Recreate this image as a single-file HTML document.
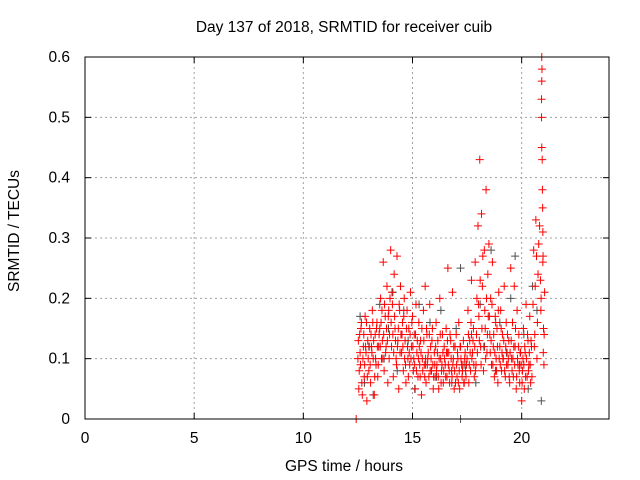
<!DOCTYPE html>
<html><head><meta charset="utf-8">
<style>
body{margin:0;background:#fff;}
svg{display:block;font-family:"Liberation Sans",sans-serif;}
</style></head>
<body>
<svg id="chart" width="640" height="480">
<rect x="0" y="0" width="640" height="480" fill="#fff"/>
<text x="344" y="32" font-size="15.5" text-anchor="middle">Day 137 of 2018, SRMTID for receiver cuib</text>
<text x="344" y="471" font-size="15.5" text-anchor="middle">GPS time / hours</text>
<text transform="translate(19,231) rotate(-90)" font-size="15.5" text-anchor="middle">SRMTID / TECUs</text>
<g id="grid"></g>
<g id="ticks"></g>
<g id="grey"></g>
<g id="red"></g>
<rect x="85" y="57" width="524" height="362" fill="none" stroke="#000" stroke-width="1"/>
</svg>
<script>
const xTicks=[0,5,10,15,20];
const yTicks=[0,0.1,0.2,0.3,0.4,0.5,0.6];
const yTickLabels=["0","0.1","0.2","0.3","0.4","0.5","0.6"];
const redValues=[
.10,.05,.14,.09,.16,.04,.12,.07,.17,.11,.03,.13,
.08,.15,.06,.12,.18,.10,.04,.14,.09,.16,.07,.12,
.15,.20,.10,.13,.26,.08,.17,.12,.22,.06,.18,.14,
.28,.12,.19,.07,.24,.15,.10,.27,.13,.05,.18,.22,
.11,.16,.08,.20,.13,.06,.18,.10,.15,.09,.21,.12,
.17,.08,.14,.05,.19,.11,.07,.16,.09,.13,.04,.10,
.18,.09,.22,.06,.14,.10,.07,.19,.12,.08,.15,.05,
.11,.07,.16,.09,.13,.05,.20,.10,.08,.14,.06,.12,
.09,.15,.07,.25,.11,.06,.13,.08,.21,.10,.05,.12,
.14,.07,.10,.16,.05,.12,.09,.08,.13,.06,.11,.07,
.10,.18,.06,.13,.08,.23,.11,.15,.07,.26,.09,.20,
.32,.17,.43,.12,.34,.22,.08,.28,.15,.38,.11,.24,
.29,.14,.20,.09,.26,.12,.07,.17,.10,.15,.06,.21,
.12,.18,.08,.14,.10,.22,.07,.16,.11,.09,.13,.06,
.25,.10,.16,.07,.22,.12,.05,.18,.09,.14,.06,.11,
.03,.08,.15,.05,.11,.19,.07,.13,.09,.17,.06,.12,
.28,.14,.33,.10,.24,.60,.45,.18,.53,.38,.27,.15,.09,.21,.58,.56,.50,.43,.35,.31,.0];
const redHours=[
12.50,12.54,12.58,12.62,12.66,12.70,12.75,12.79,12.83,12.87,12.91,12.95,
13.00,13.04,13.08,13.12,13.16,13.20,13.25,13.29,13.33,13.37,13.41,13.45,
13.50,13.54,13.58,13.62,13.66,13.70,13.75,13.79,13.83,13.87,13.91,13.95,
14.00,14.04,14.08,14.12,14.16,14.20,14.25,14.29,14.33,14.37,14.41,14.45,
14.50,14.54,14.58,14.62,14.66,14.70,14.75,14.79,14.83,14.87,14.91,14.95,
15.00,15.04,15.08,15.12,15.16,15.20,15.25,15.29,15.33,15.37,15.41,15.45,
15.50,15.54,15.58,15.62,15.66,15.70,15.75,15.79,15.83,15.87,15.91,15.95,
16.00,16.04,16.08,16.12,16.16,16.20,16.25,16.29,16.33,16.37,16.41,16.45,
16.50,16.54,16.58,16.62,16.66,16.70,16.75,16.79,16.83,16.87,16.91,16.95,
17.00,17.04,17.08,17.12,17.16,17.20,17.25,17.29,17.33,17.37,17.41,17.45,
17.50,17.54,17.58,17.62,17.66,17.70,17.75,17.79,17.83,17.87,17.91,17.95,
18.00,18.04,18.08,18.12,18.16,18.20,18.25,18.29,18.33,18.37,18.41,18.45,
18.50,18.54,18.58,18.62,18.66,18.70,18.75,18.79,18.83,18.87,18.91,18.95,
19.00,19.04,19.08,19.12,19.16,19.20,19.25,19.29,19.33,19.37,19.41,19.45,
19.50,19.54,19.58,19.62,19.66,19.70,19.75,19.79,19.83,19.87,19.91,19.95,
20.00,20.04,20.08,20.12,20.16,20.20,20.25,20.29,20.33,20.37,20.41,20.45,
20.55,20.60,20.65,20.70,20.75,20.92,20.92,20.88,20.91,20.95,20.98,21.00,21.02,21.05,20.93,20.92,20.91,20.94,20.96,20.97,12.42];
const redValues2=[
.13,.08,.11,.15,.06,.10,.14,.09,.12,.16,.07,.10,
.12,.09,.14,.11,.16,.13,.07,.10,.15,.12,.09,.14,
.12,.16,.18,.10,.14,.19,.11,.15,.13,.17,.10,.20,
.16,.21,.14,.11,.17,.13,.09,.12,.15,.19,.11,.14,
.14,.12,.17,.10,.09,.15,.12,.07,.11,.14,.10,.16,
.12,.10,.09,.14,.08,.13,.10,.12,.07,.11,.15,.08,
.13,.07,.10,.15,.09,.11,.14,.08,.10,.13,.09,.07,
.09,.12,.08,.11,.07,.10,.14,.06,.09,.11,.08,.10,
.07,.11,.13,.09,.08,.14,.10,.07,.09,.12,.08,.06,
.09,.11,.06,.08,.12,.10,.07,.09,.06,.10,.08,.09,
.12,.14,.09,.11,.16,.10,.13,.09,.12,.08,.14,.11,
.19,.13,.23,.09,.15,.27,.12,.18,.10,.20,.14,.17,
.17,.11,.13,.19,.09,.14,.11,.16,.08,.12,.18,.10,
.09,.15,.11,.10,.13,.08,.12,.09,.14,.10,.07,.11,
.13,.08,.10,.12,.09,.15,.07,.10,.12,.08,.11,.09,
.06,.10,.09,.12,.07,.10,.14,.08,.11,.09,.13,.07,
.19,.12,.22,.27,.16,.29,.32,.23,.20,.26,.11,.14];
const redHours2=[
12.52,12.56,12.60,12.64,12.68,12.73,12.77,12.81,12.85,12.89,12.93,12.97,
13.02,13.06,13.10,13.14,13.18,13.22,13.27,13.31,13.35,13.39,13.43,13.47,
13.52,13.56,13.60,13.64,13.68,13.72,13.77,13.81,13.85,13.89,13.93,13.97,
14.02,14.06,14.10,14.14,14.18,14.22,14.27,14.31,14.35,14.39,14.43,14.47,
14.52,14.56,14.60,14.64,14.68,14.72,14.77,14.81,14.85,14.89,14.93,14.97,
15.02,15.06,15.10,15.14,15.18,15.22,15.27,15.31,15.35,15.39,15.43,15.47,
15.52,15.56,15.60,15.64,15.68,15.72,15.77,15.81,15.85,15.89,15.93,15.97,
16.02,16.06,16.10,16.14,16.18,16.22,16.27,16.31,16.35,16.39,16.43,16.47,
16.52,16.56,16.60,16.64,16.68,16.72,16.77,16.81,16.85,16.89,16.93,16.97,
17.02,17.06,17.10,17.14,17.18,17.22,17.27,17.31,17.35,17.39,17.43,17.47,
17.52,17.56,17.60,17.64,17.68,17.72,17.77,17.81,17.85,17.89,17.93,17.97,
18.02,18.06,18.10,18.14,18.18,18.22,18.27,18.31,18.35,18.39,18.43,18.47,
18.52,18.56,18.60,18.64,18.68,18.72,18.77,18.81,18.85,18.89,18.93,18.97,
19.02,19.06,19.10,19.14,19.18,19.22,19.27,19.31,19.35,19.39,19.43,19.47,
19.52,19.56,19.60,19.64,19.68,19.72,19.77,19.81,19.85,19.89,19.93,19.97,
20.02,20.06,20.10,20.14,20.18,20.22,20.27,20.31,20.35,20.39,20.43,20.47,
20.52,20.58,20.62,20.68,20.72,20.78,20.82,20.86,20.89,20.97,20.99,21.03];
const greyHours=[12.6,12.8,13.0,13.2,13.5,13.7,13.9,14.1,14.3,14.6,14.8,15.1,15.3,15.6,15.8,16.1,16.3,16.6,16.8,17.0,17.2,17.4,17.7,17.9,18.1,18.3,18.6,18.8,19.0,19.3,19.5,19.7,19.9,20.1,20.3,20.5,20.7,20.9,17.2];
const greyValues=[.17,.06,.12,.04,.19,.10,.15,.21,.08,.18,.13,.05,.19,.09,.16,.07,.18,.11,.06,.15,.25,.09,.14,.06,.19,.12,.28,.08,.16,.11,.20,.27,.09,.14,.05,.22,.18,.03,.0];

const X0=85,X1=609,Y0=419,Y1=57;
const xs=h=>X0+(X1-X0)*h/24;
const ys=v=>Y0-(Y0-Y1)*v/0.6;
const NS="http://www.w3.org/2000/svg";
function mk(tag,attrs,parent){const e=document.createElementNS(NS,tag);for(const k in attrs)e.setAttribute(k,attrs[k]);parent.appendChild(e);return e;}
const grid=document.getElementById('grid'),ticks=document.getElementById('ticks');
xTicks.forEach(t=>{
  const x=xs(t);
  if(t>0){const g=mk('line',{x1:x,x2:x,y1:Y1,y2:Y0,stroke:'#a0a0a0','stroke-dasharray':'2,3'},grid);
  
  }
  mk('line',{x1:x,x2:x,y1:Y0,y2:Y0-6,stroke:'#000'},ticks);
  mk('line',{x1:x,x2:x,y1:Y1,y2:Y1+6,stroke:'#000'},ticks);
  const l=mk('text',{x:x,y:443,'font-size':15.5,'text-anchor':'middle'},ticks);
  l.textContent=t;
  
  
});
yTicks.forEach((t,i)=>{
  const y=ys(t);
  if(t>0&&t<0.6){const g=mk('line',{x1:X0,x2:X1,y1:y,y2:y,stroke:'#a0a0a0','stroke-dasharray':'2,3'},grid);
  
  }
  mk('line',{x1:X0,x2:X0+6,y1:y,y2:y,stroke:'#000'},ticks);
  mk('line',{x1:X1,x2:X1-6,y1:y,y2:y,stroke:'#000'},ticks);
  const l=mk('text',{x:70,y:y+5,'font-size':15.5,'text-anchor':'end'},ticks);
  l.textContent=yTickLabels[i];
  
  
});
function plus(parent,h,v,color){
  const x=xs(h),y=ys(v);
  const p=mk('path',{d:`M${x-4},${y}H${x+4}M${x},${y-4}V${y+4}`,stroke:color,'stroke-width':1,fill:'none'},parent);
  
  
}
const gG=document.getElementById('grey'),gR=document.getElementById('red');
greyHours.forEach((h,i)=>plus(gG,h,greyValues[i],'#505050'));
redHours.forEach((h,i)=>plus(gR,h,redValues[i],'#ff0000'));
redHours2.forEach((h,i)=>plus(gR,h,redValues2[i],'#ff0000'));
</script>
</body></html>
